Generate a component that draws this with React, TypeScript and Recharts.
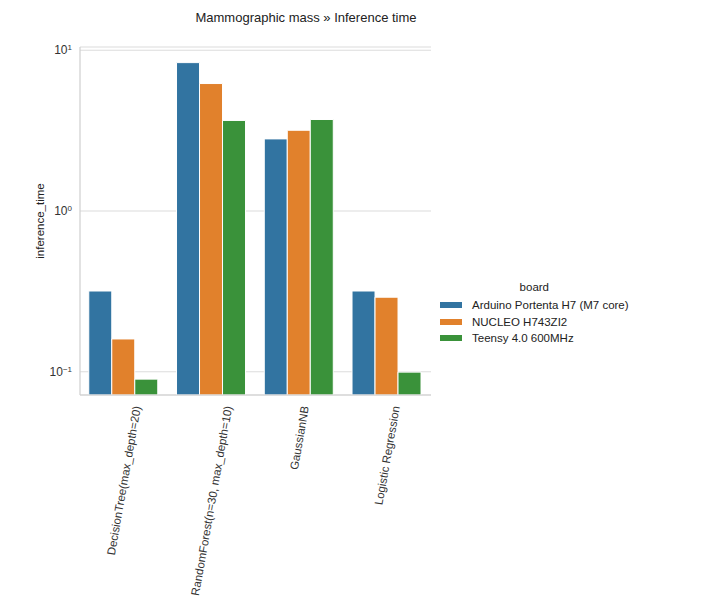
import React from 'react';
import { BarChart, Bar, XAxis, YAxis, CartesianGrid } from 'recharts';

const models = [
  'DecisionTree(max_depth=20)',
  'RandomForest(n=30, max_depth=10)',
  'GaussianNB',
  'Logistic Regression',
];
const boards = ['Arduino Portenta H7 (M7 core)', 'NUCLEO H743ZI2', 'Teensy 4.0 600MHz'];
const portenta = [0.318, 8.38, 2.81, 0.318];
const nucleo = [0.16, 6.21, 3.18, 0.291];
const teensy = [0.09, 3.66, 3.71, 0.0995];
const yTicks = [0.1, 1, 10];
const colors = ['#3274a1', '#e1812c', '#3a923a'];

const FONT = '"Liberation Sans", Arial, sans-serif';

const data = models.map((m, i) => ({
  model: m,
  b0: portenta[i],
  b1: nucleo[i],
  b2: teensy[i],
}));

// rough text width so the rotated labels can be centred on their ticks
const measure = (s: string, size: number) => {
  const ctx = document.createElement('canvas').getContext('2d');
  if (!ctx) return s.length * size * 0.52;
  ctx.font = `${size}px "Liberation Sans", Arial`;
  return ctx.measureText(s).width;
};

const YTick = (props: any) => {
  const { x, y, payload } = props;
  const exp = String(Math.round(Math.log10(payload.value))).replace('-', '\u2212');
  return (
    <text x={x} y={y} dy="0.35em" textAnchor="end" fontSize={12} fill="#333" fontFamily={FONT}>
      10
      <tspan dy="-0.55em" fontSize={8}>{exp}</tspan>
    </text>
  );
};

const XTick = (props: any) => {
  const { x, y, payload } = props;
  const len = measure(payload.value, 11.5);
  const px = x + (len * Math.cos((80 * Math.PI) / 180)) / 2;
  return (
    <text
      x={px}
      y={y}
      dy="0.35em"
      textAnchor="end"
      transform={`rotate(-80 ${px} ${y})`}
      fontSize={11.5}
      fill="#333"
      fontFamily={FONT}
    >
      {payload.value}
    </text>
  );
};

const YLabel = (props: any) => {
  const { viewBox } = props;
  const cx = viewBox.x + 20;
  const cy = viewBox.y + viewBox.height / 2;
  return (
    <text
      x={cx}
      y={cy}
      dy="0.35em"
      textAnchor="middle"
      transform={`rotate(-90 ${cx} ${cy})`}
      fontSize={11.5}
      fill="#222"
      fontFamily={FONT}
    >
      inference_time
    </text>
  );
};

export default function App() {
  return (
    <div style={{ position: 'absolute', left: 0, top: 0, width: 703, height: 602, background: '#fff', fontFamily: FONT }}>
      <div
        style={{
          position: 'absolute',
          left: 156,
          width: 300,
          top: 10,
          textAlign: 'center',
          fontSize: 13,
          lineHeight: '16px',
          color: '#222',
        }}
      >
        Mammographic mass » Inference time
      </div>

      <BarChart
        width={703}
        height={602}
        data={data}
        margin={{ top: 47, right: 272, bottom: 7, left: 20 }}
        barCategoryGap="10%"
        barGap={0}
      >
        <CartesianGrid vertical={false} stroke="#dcdcdc" strokeWidth={1.2} />
        <XAxis
          dataKey="model"
          height={200}
          interval={0}
          tickLine={false}
          tickSize={0}
          tickMargin={11}
          axisLine={{ stroke: '#cfcfcf', strokeWidth: 1.2 }}
          tick={<XTick />}
        />
        <YAxis
          width={60}
          scale="log"
          domain={[0.0717, 10.48]}
          allowDataOverflow
          ticks={yTicks}
          tickLine={false}
          tickSize={0}
          tickMargin={8}
          axisLine={{ stroke: '#cfcfcf', strokeWidth: 1.2 }}
          tick={<YTick />}
          label={{ content: <YLabel /> }}
        />
        {['b0', 'b1', 'b2'].map((k, i) => (
          <Bar key={k} dataKey={k} name={boards[i]} fill={colors[i]} stroke="#fff" strokeWidth={1} isAnimationActive={false} />
        ))}
      </BarChart>

      <div style={{ position: 'absolute', left: 440, top: 280, fontSize: 11.5, color: '#222' }}>
        <div style={{ textAlign: 'center', lineHeight: '15px', marginBottom: 2 }}>board</div>
        {boards.map((b, i) => (
          <div key={b} style={{ display: 'flex', alignItems: 'center', height: 16.5 }}>
            <span style={{ display: 'inline-block', width: 22, height: 6, background: colors[i], marginRight: 10 }} />
            <span>{b}</span>
          </div>
        ))}
      </div>
    </div>
  );
}
